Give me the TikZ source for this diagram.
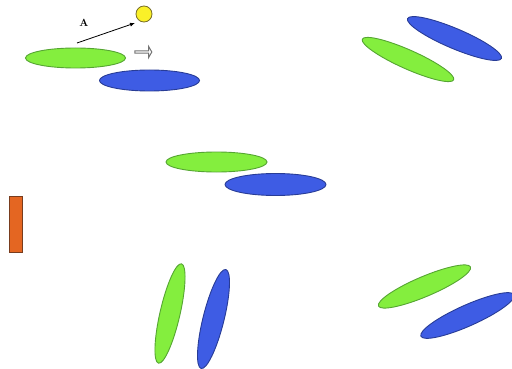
\documentclass[tikz,border=0pt]{standalone}
\usetikzlibrary{shapes.geometric,shapes.arrows,arrows.meta}
\definecolor{gfill}{RGB}{132,238,62}
\definecolor{gline}{RGB}{85,165,50}
\definecolor{bfill}{RGB}{62,92,228}
\definecolor{bline}{RGB}{40,60,150}
\definecolor{yfill}{RGB}{250,240,40}
\definecolor{yline}{RGB}{120,110,40}
\definecolor{ofill}{RGB}{228,102,34}
\definecolor{oline}{RGB}{120,60,30}
\tikzset{
  gell/.style={ellipse, draw=gline, fill=gfill, line width=0.9pt, inner sep=0pt},
  bell/.style={ellipse, draw=bline, fill=bfill, line width=0.9pt, inner sep=0pt},
}
\begin{document}
\begin{tikzpicture}[x=1pt,y=-1pt]
\useasboundingbox (0,0) rectangle (512,369);
% top-left
\node[gell, minimum width=100pt, minimum height=20pt] (g1) at (75.5,58) {};
\node[bell, minimum width=100pt, minimum height=21pt] (b1) at (149.5,80.5) {};
\node[circle, draw=yline, fill=yfill, line width=0.8pt, minimum size=16pt, inner sep=0pt] (sun) at (144,14) {};
\coordinate (astart) at (77,43);
\coordinate (aend) at (135,23);
\draw[line width=0.8pt, -{Latex[length=5pt,width=4pt]}] (astart) -- (aend);
\node[font=\bfseries\fontsize{10.5}{11}\selectfont] (lblA) at (84,22.5) {A};
\node[single arrow, draw=black!55, fill=white, line width=1pt, minimum height=17pt, minimum width=11pt, single arrow head extend=2pt, single arrow tip angle=120, inner sep=0pt] (harrow) at (143,52) {};
% top-right
\node[gell, minimum width=100pt, minimum height=19pt, rotate=-24] (g2) at (408,59.5) {};
\node[bell, minimum width=102pt, minimum height=20pt, rotate=-23] (b2) at (454.5,38.5) {};
% middle
\node[gell, minimum width=101pt, minimum height=20pt] (g3) at (216.5,162) {};
\node[bell, minimum width=101pt, minimum height=22pt] (b3) at (275.5,184.5) {};
% orange bar
\node[rectangle, draw=oline, fill=ofill, line width=0.8pt, minimum width=13pt, minimum height=56pt, inner sep=0pt] (bar) at (16,224) {};
% bottom-middle
\node[gell, minimum width=102pt, minimum height=20pt, rotate=77] (g4) at (170,313.5) {};
\node[bell, minimum width=102pt, minimum height=21pt, rotate=76] (b4) at (213.5,319) {};
% bottom-right
\node[gell, minimum width=100pt, minimum height=20pt, rotate=23] (g5) at (424.5,286.5) {};
\node[bell, minimum width=102pt, minimum height=21pt, rotate=24] (b5) at (467.5,315.5) {};
\end{tikzpicture}
\end{document}
